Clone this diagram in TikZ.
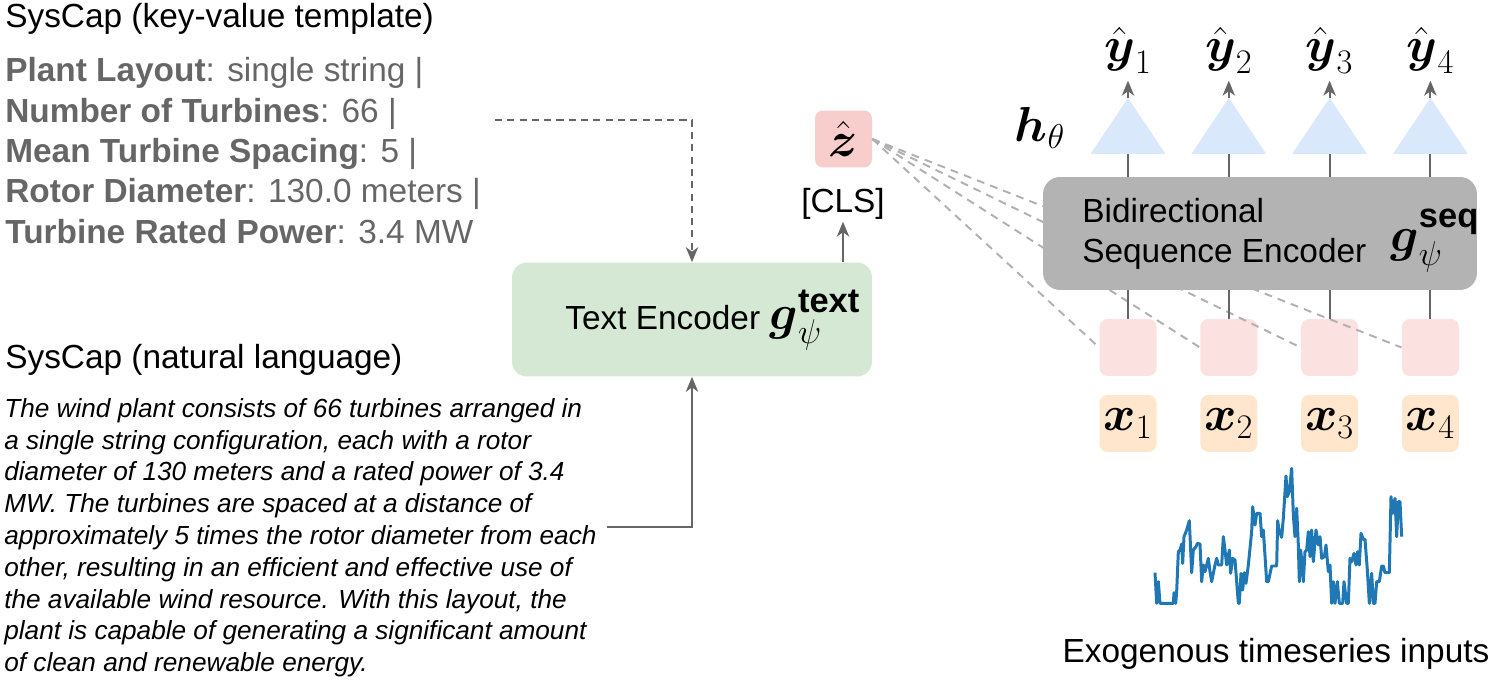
\documentclass[tikz,border=0pt]{standalone}
\usepackage{fix-cm}
\usepackage{amsmath}
\usepackage{fontspec}
\setmainfont{Liberation Sans}
\usetikzlibrary{arrows.meta}
\definecolor{kvgray}{HTML}{666666}
\definecolor{arrgray}{HTML}{666666}
\definecolor{zgray}{HTML}{B0B0B0}
\definecolor{tegreen}{HTML}{D5E8D4}
\definecolor{zpink}{HTML}{F8CECC}
\definecolor{embpink}{HTML}{FBE1E0}
\definecolor{xorange}{HTML}{FFE6CC}
\definecolor{seqgray}{HTML}{B3B3B3}
\definecolor{triblue}{HTML}{DAE8FC}
\definecolor{tsblue}{HTML}{1F77B4}

\begin{document}
\begin{tikzpicture}[x=0.02cm,y=-0.02cm,
txt/.style={font=\fontsize{19}{22.85}\selectfont,inner sep=0},
mth/.style={font=\fontsize{28}{34}\selectfont,inner sep=0},
box/.style={rounded corners=0.16cm,minimum width=1.14cm,minimum height=1.14cm,inner sep=0},
cline/.style={draw=arrgray,line width=1.2pt},
arr/.style={draw=arrgray,line width=1.2pt,-{Stealth[length=8.5pt,width=7pt,inset=2.5pt]}},
zline/.style={draw=zgray,line width=1.1pt,dash pattern=on 4.5pt off 3.5pt}]
\useasboundingbox (0,0) rectangle (1495,682);
\node[txt,anchor=base west] (kvtitle) at (5,28) {SysCap (key-value template)};
\foreach \key/\val [count=\i] in {Plant Layout/single string |,Number of Turbines/66 |,Mean Turbine Spacing/5 |,Rotor Diameter/130.0 meters |,Turbine Rated Power/3.4 MW}
\node[txt,text=kvgray,anchor=base west] (kv\i) at (5,{82+40.3*(\i-1)}) {\textbf{\key}: \val};
\node[txt,anchor=base west] (nltitle) at (5,369) {SysCap (natural language)};
\node[anchor=north west,inner sep=0,align=left,font=\fontsize{14.9}{18.1}\selectfont\itshape] (nl) at (4,398) {The wind plant consists of 66 turbines arranged in\\a single string configuration, each with a rotor\\diameter of 130 meters and a rated power of 3.4\\MW. The turbines are spaced at a distance of\\approximately 5 times the rotor diameter from each\\other, resulting in an efficient and effective use of\\the available wind resource. With this layout, the\\plant is capable of generating a significant amount\\of clean and renewable energy.};
\node[fill=tegreen,rounded corners=0.3cm,minimum width=7.2cm,minimum height=2.28cm] (te) at (692,319.5) {};
\node[txt,anchor=base west] (telab) at (565,330) {Text Encoder {\fontsize{28}{34}\selectfont$\boldsymbol{g}_\psi^{\text{\bfseries text}}$}};
\node[txt,inner sep=1pt] (cls) at (843,204) {[CLS]};
\node[box,mth,fill=zpink] (zh) at (843.5,139) {$\hat{\boldsymbol{z}}$};
\coordinate (kvout) at (495,120);
\coordinate (nlout) at (607,527);
\draw[arr,dash pattern=on 4pt off 3pt] (kvout) -| (te.north);
\draw[arr] (nlout) -| (te.south);
\draw[arr] (te.north -| cls) -- (cls.south);
\foreach \i/\x in {1/1128,2/1228.8,3/1329.6,4/1430.4}{
\node[box,fill=embpink] (e\i) at (\x,347.5) {};
\node[box,mth,fill=xorange] (x\i) at (\x,423.5) {$\boldsymbol{x}_\i$};
\node[mth,anchor=base] (y\i) at (\x,62) {$\hat{\boldsymbol{y}}_\i$};
\coordinate (b\i) at (\x,154);
\coordinate (a\i) at (\x,98);}
\foreach \i in {1,...,4}
\draw[zline] (zh.east) -- (e\i.west);
\node[fill=seqgray,rounded corners=0.34cm,minimum width=8.68cm,minimum height=2.26cm] (seq) at (1260,233.5) {};
\node[txt,anchor=base west] (seqa) at (1082,223) {Bidirectional};
\node[txt,anchor=base west] (seqb) at (1082,263) {Sequence Encoder};
\node[mth,anchor=base west] (seqg) at (1390,252) {$\boldsymbol{g}_\psi^{\text{\bfseries seq}}$};
\foreach \i in {1,...,4}{
\draw[cline] (e\i.north) -- (e\i.north |- seq.south);
\draw[cline] (seq.north -| b\i) -- (b\i);
\fill[triblue] (b\i) ++(-37.5,0) -- ++(75,0) -- (a\i) -- cycle;
\draw[arr,shorten >=4pt] (a\i) -- (y\i.south);}
\node[mth] (h) at (1040,128) {$\boldsymbol{h}_\theta$};
\node[txt,anchor=base] (exo) at (1276,662) {Exogenous timeseries inputs};
\begin{scope}[shift={(1130,450)},scale=1/3]
\draw[tsblue,line width=1.7pt,line join=round] plot coordinates {(75,368) (80,460) (85,395) (90,460) (130,460) (132,428) (137,460) (140,425) (145,305) (150,300) (155,282) (158,340) (162,260) (170,240) (178,212) (185,368) (190,300) (198,290) (202,280) (210,282) (215,395) (220,345) (225,365) (235,325) (240,365) (245,395) (250,370) (255,345) (260,325) (265,345) (275,345) (280,260) (285,300) (290,345) (298,300) (302,370) (308,325) (315,330) (325,460) (328,460) (333,370) (338,420) (343,368) (348,400) (355,345) (365,245) (368,170) (375,225) (380,190) (390,190) (395,260) (400,240) (410,395) (415,395) (425,348) (440,348) (443,212) (447,240) (455,262) (460,205) (468,78) (472,140) (478,125) (485,55) (490,195) (495,260) (500,175) (505,285) (508,395) (512,300) (517,350) (520,395) (525,305) (530,300) (535,245) (540,320) (545,240) (550,335) (558,240) (565,285) (570,260) (575,325) (583,320) (588,285) (595,365) (600,345) (605,460) (610,395) (615,460) (622,395) (628,460) (638,460) (642,395) (650,460) (655,460) (660,325) (665,335) (672,310) (678,345) (683,305) (688,345) (693,250) (700,268) (705,268) (712,360) (718,460) (725,370) (730,460) (735,460) (740,395) (748,395) (755,348) (760,348) (765,368) (778,368) (783,140) (788,190) (795,145) (800,260) (805,155) (810,155) (815,260)};
\end{scope}
\end{tikzpicture}
\end{document}
